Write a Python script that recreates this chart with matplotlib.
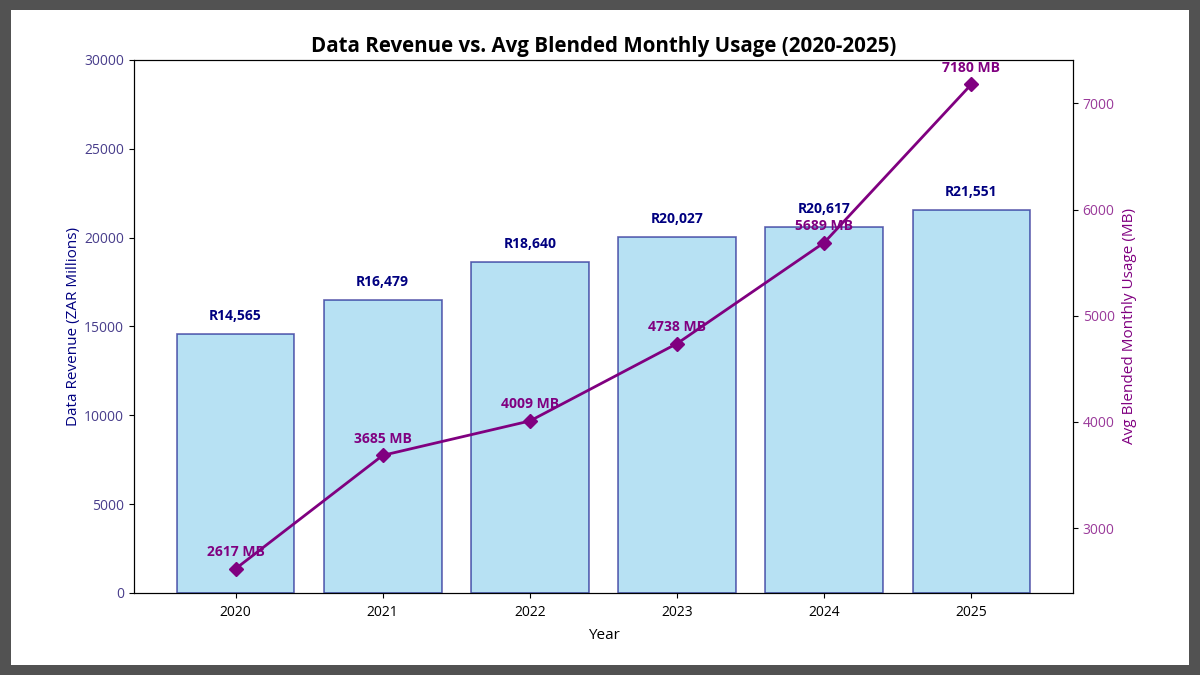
import matplotlib
matplotlib.use("Agg")
import matplotlib.pyplot as plt
from matplotlib.patches import Rectangle

plt.rcParams['font.family'] = ['Open Sans', 'DejaVu Sans']

years = ["2020", "2021", "2022", "2023", "2024", "2025"]
revenue = [14565, 16479, 18640, 20027, 20617, 21551]
usage = [2617, 3685, 4009, 4738, 5689, 7180]

fig = plt.figure(figsize=(12, 6.75), dpi=100, facecolor='#525252')
fig.patches.append(Rectangle((11/1200, 10/675), 1178/1200, 655/675,
                             transform=fig.transFigure, facecolor='white',
                             edgecolor='none', zorder=-10))
ax = fig.add_axes([134/1200, 1-593/675, (1073-134)/1200, (593-60)/675])
x = list(range(len(years)))

ax.bar(x, revenue, width=0.8, color='skyblue', edgecolor='navy', alpha=0.6, linewidth=1.2)
for xi, v in zip(x, revenue):
    ax.annotate(f"R{v:,}", (xi, v), xytext=(0, 8), textcoords='offset points',
                ha='center', va='bottom', fontsize=10, fontweight='bold', color='navy')
ax.set_ylim(0, 30000)
ax.set_xticks(x)
ax.set_xticklabels(years, fontsize=10)
ax.tick_params(axis='x', pad=5)
ax.set_xlabel("Year", fontsize=11, labelpad=6)
ax.set_ylabel("Data Revenue (ZAR Millions)", fontsize=11, color='navy', labelpad=2)
ax.tick_params(axis='y', labelcolor='darkslateblue', labelsize=10)

ax2 = ax.twinx()
ax2.plot(x, usage, color='purple', marker='D', markersize=7, linewidth=2)
for xi, v in zip(x, usage):
    ax2.annotate(f"{v} MB", (xi, v), xytext=(0, 7), textcoords='offset points',
                 ha='center', va='bottom', fontsize=10, fontweight='bold', color='purple')
ax2.set_ylabel("Avg Blended Monthly Usage (MB)", fontsize=11, color='purple', labelpad=5)
ax2.tick_params(axis='y', labelcolor='#9a3a9a', labelsize=10)
ax2.set_yticks([3000, 4000, 5000, 6000, 7000])

ax.set_title("Data Revenue vs. Avg Blended Monthly Usage (2020-2025)", fontsize=14.8, fontweight='bold')

fig.savefig("out.png", dpi=100, facecolor=fig.get_facecolor())
